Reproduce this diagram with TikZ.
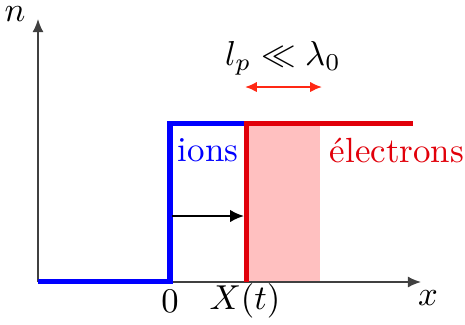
\documentclass[tikz,border=0pt]{standalone}
\usetikzlibrary{arrows.meta}
\definecolor{ionblue}{RGB}{0,0,255}
\definecolor{elred}{RGB}{225,0,10}
\definecolor{pinkzone}{RGB}{255,192,192}
\definecolor{arrred}{RGB}{255,40,20}
\begin{document}
\begin{tikzpicture}[x=0.289pt,y=-0.289pt,
  axis/.style={draw=black!75,line width=0.45pt,-{Latex[length=3.8pt,width=3.2pt]}},
  ionline/.style={draw=ionblue,line width=1.45pt},
  elline/.style={draw=elred,line width=1.45pt},
  lbl/.style={inner sep=0pt,font=\fontsize{10.1}{12}\selectfont},
  push/.style={draw=black,line width=0.6pt,-{Latex[length=4pt,width=3.6pt]}},
  dim/.style={draw=arrred,line width=0.6pt,{Latex[length=3.4pt,width=3pt]}-{Latex[length=3.4pt,width=3pt]}}]
\useasboundingbox (0,0) rectangle (465,324);
% coordinates
\coordinate (O) at (38,282);
\coordinate (xend) at (421,282);
\coordinate (yend) at (38,19);
\coordinate (i0) at (38,281);
\coordinate (i1) at (170,281);
\coordinate (i2) at (170,123);
\coordinate (i3) at (246,123);
\coordinate (e0) at (246,282);
\coordinate (e1) at (246,123);
\coordinate (e2) at (413,123);
\coordinate (p1) at (320,282);
\coordinate (a0) at (172,216);
\coordinate (a1) at (244,216);
\coordinate (d0) at (245,87);
\coordinate (d1) at (322,87);
% shaded zone
\fill[pinkzone] (e1) rectangle (p1);
% axes
\draw[axis] (O) -- (xend);
\draw[axis] (O) -- (yend);
% profiles
\draw[ionline] (i0) -- (i1) -- (i2) -- (i3);
\draw[elline,line join=miter] (e0) -- (e1) -- (e2);
% arrows
\draw[push] (a0) -- (a1);
\draw[dim] (d0) -- (d1);
% labels
\node[lbl] (nlab) at (15,14) {$n$};
\node[lbl] (xlab) at (428,298) {$x$};
\node[lbl] (zero) at (170,301) {$0$};
\node[lbl] (Xt) at (245,301) {$X(t)$};
\node[lbl,text=ionblue] (ions) at (208,150) {ions};
\node[lbl,text=elred] (elec) at (397,150) {électrons};
\node[lbl] (lp) at (283,58) {$l_p \ll \lambda_0$};
\end{tikzpicture}
\end{document}
